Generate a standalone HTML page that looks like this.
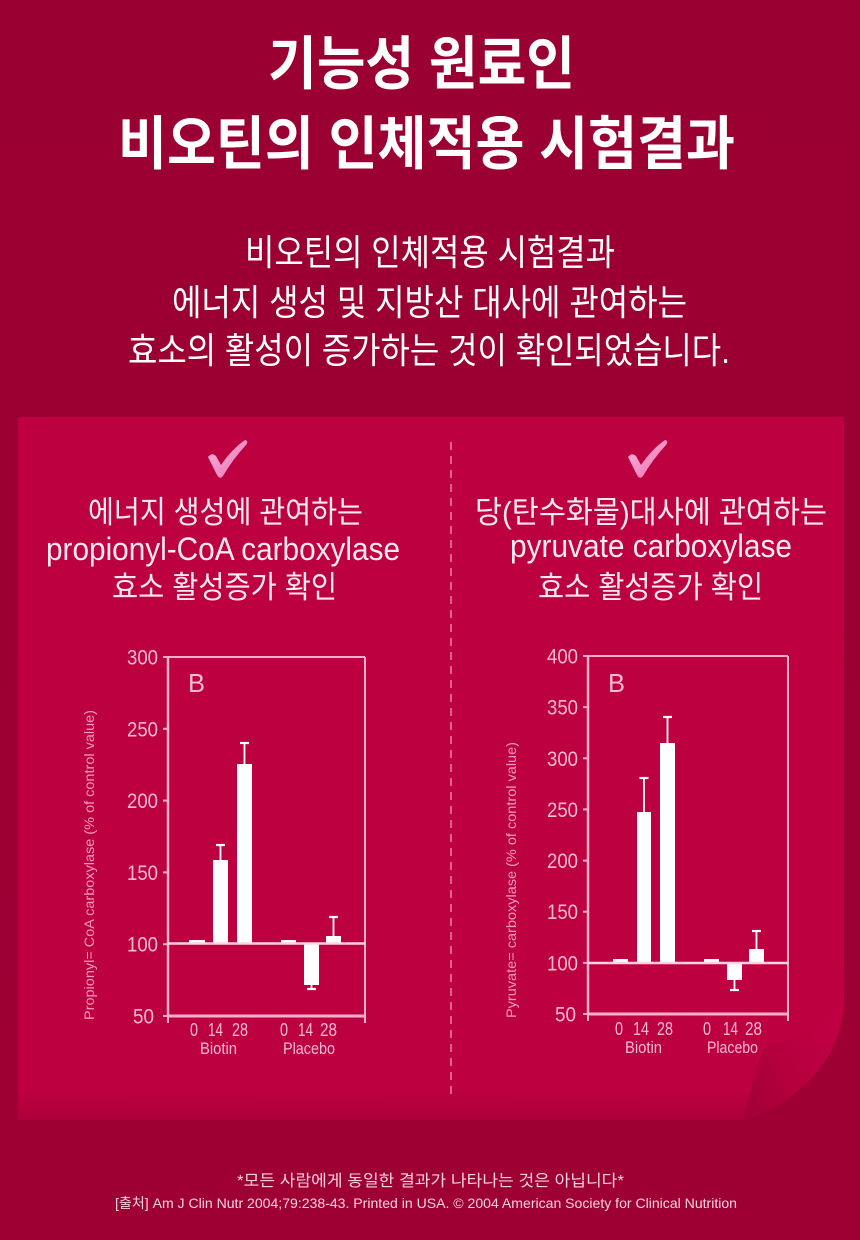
<!DOCTYPE html>
<html>
<head>
<meta charset="utf-8">
<style>
html,body{margin:0;padding:0;background:#9d0033;}
svg{display:block;}
.k{font-family:"Liberation Sans","Noto Sans CJK KR",sans-serif;}
</style>
</head>
<body>
<svg width="860" height="1240" viewBox="0 0 860 1240" xmlns="http://www.w3.org/2000/svg">
<defs>
  <linearGradient id="bg" x1="0" y1="0" x2="0" y2="1">
    <stop offset="0" stop-color="#9b0032"/>
    <stop offset="1" stop-color="#9e0034"/>
  </linearGradient>
  <linearGradient id="btm" x1="0" y1="0" x2="0" y2="1">
    <stop offset="0" stop-color="#8a002c" stop-opacity="0"/>
    <stop offset="1" stop-color="#8a002c" stop-opacity="0.3"/>
  </linearGradient>
  <linearGradient id="curl" x1="1" y1="0.2" x2="0" y2="0.9">
    <stop offset="0" stop-color="#c20044"/>
    <stop offset="0.55" stop-color="#b5003e"/>
    <stop offset="1" stop-color="#a30037"/>
  </linearGradient>
  <linearGradient id="chk" x1="0" y1="0" x2="1" y2="1">
    <stop offset="0" stop-color="#fbb6dc"/>
    <stop offset="1" stop-color="#ec6fb2"/>
  </linearGradient>
</defs>

<rect x="0" y="0" width="860" height="1240" fill="url(#bg)"/>

<!-- Titles -->
<g class="k" fill="#ffffff" font-weight="700" font-size="58" text-anchor="start">
  <text x="268" y="84" textLength="307" lengthAdjust="spacingAndGlyphs">기능성 원료인</text>
  <text x="118" y="164" textLength="617" lengthAdjust="spacingAndGlyphs">비오틴의 인체적용 시험결과</text>
</g>
<g class="k" fill="#ffffff" font-weight="400" font-size="36">
  <text x="245" y="265" textLength="370" lengthAdjust="spacingAndGlyphs">비오틴의 인체적용 시험결과</text>
  <text x="172" y="315" textLength="515" lengthAdjust="spacingAndGlyphs">에너지 생성 및 지방산 대사에 관여하는</text>
  <text x="128" y="363" textLength="602" lengthAdjust="spacingAndGlyphs">효소의 활성이 증가하는 것이 확인되었습니다.</text>
</g>

<!-- Panel -->
<path d="M18,417 H844 V995 C844,1055 805,1100 743,1120 H18 Z" fill="#bd0040"/>
<rect x="18" y="1088" width="735" height="32" fill="url(#btm)"/>
<path d="M844,995 C832,1028 792,1038 764,1048 C755,1068 750,1095 743,1120 C805,1100 844,1055 844,995 Z" fill="url(#curl)"/>

<!-- divider -->
<line x1="451" y1="442" x2="451" y2="1095" stroke="#f0a4c4" stroke-width="1.2" stroke-dasharray="8 6"/>

<!-- check marks -->
<path d="M208,457 Q212,452 216,456 L221,465 Q232,449 245,440 Q249,441 246,445 Q233,459 223,476 Q220,480 217,475 Z" fill="url(#chk)"/>
<path d="M628,457 Q632,452 636,456 L641,465 Q652,449 665,440 Q669,441 666,445 Q653,459 643,476 Q640,480 637,475 Z" fill="url(#chk)"/>

<!-- headings -->
<g class="k" fill="#fde9f0" font-size="31">
  <text x="88" y="523" textLength="275" lengthAdjust="spacingAndGlyphs">에너지 생성에 관여하는</text>
  <text x="46" y="560" textLength="354" lengthAdjust="spacingAndGlyphs" font-size="32">propionyl-CoA carboxylase</text>
  <text x="112" y="598" textLength="225" lengthAdjust="spacingAndGlyphs">효소 활성증가 확인</text>
  <text x="475" y="523" textLength="352" lengthAdjust="spacingAndGlyphs">당(탄수화물)대사에 관여하는</text>
  <text x="510" y="557" textLength="282" lengthAdjust="spacingAndGlyphs" font-size="32">pyruvate carboxylase</text>
  <text x="538" y="598" textLength="225" lengthAdjust="spacingAndGlyphs">효소 활성증가 확인</text>
</g>

<!-- LEFT CHART -->
<g stroke="#f5b0cc" fill="none">
  <line x1="168" y1="656" x2="168" y2="1017" stroke-width="2.5"/>
  <line x1="167" y1="657" x2="365" y2="657" stroke-width="2"/>
  <line x1="365" y1="657" x2="365" y2="1017" stroke-width="2"/>
  <line x1="167" y1="1016" x2="366" y2="1016" stroke-width="3"/>
  <line x1="168" y1="1016" x2="168" y2="1023" stroke-width="2"/>
  <line x1="365" y1="1016" x2="365" y2="1023" stroke-width="2"/>
  <line x1="163" y1="657" x2="168" y2="657" stroke-width="2"/>
  <line x1="163" y1="728.8" x2="168" y2="728.8" stroke-width="2"/>
  <line x1="163" y1="800.6" x2="168" y2="800.6" stroke-width="2"/>
  <line x1="163" y1="872.4" x2="168" y2="872.4" stroke-width="2"/>
  <line x1="163" y1="944.2" x2="168" y2="944.2" stroke-width="2"/>
  <line x1="163" y1="1016" x2="168" y2="1016" stroke-width="2"/>
</g>
<g fill="#ffffff">
  <rect x="189" y="940" width="16" height="4"/>
  <rect x="213" y="860" width="15" height="84"/>
  <rect x="237" y="764" width="15" height="180"/>
  <rect x="281" y="940" width="15" height="4"/>
  <rect x="304" y="944" width="15" height="41"/>
  <rect x="326" y="936" width="15" height="8"/>
</g>
<g stroke="#ffffff" stroke-width="1.8">
  <line x1="220.5" y1="845" x2="220.5" y2="860"/><line x1="216" y1="845" x2="225" y2="845" stroke-width="2.2"/>
  <line x1="244.5" y1="743" x2="244.5" y2="764"/><line x1="240" y1="743" x2="249" y2="743" stroke-width="2.2"/>
  <line x1="311.5" y1="985" x2="311.5" y2="989"/><line x1="307" y1="989" x2="316" y2="989" stroke-width="2.2"/>
  <line x1="333.5" y1="917" x2="333.5" y2="936"/><line x1="329" y1="917" x2="338" y2="917" stroke-width="2.2"/>
</g>
<line x1="168" y1="943.5" x2="365" y2="943.5" stroke="#fbd3e3" stroke-width="2.5"/>
<g class="k" fill="#f6bcd4" font-size="21" text-anchor="end">
  <text x="158" y="664.5" textLength="31" lengthAdjust="spacingAndGlyphs">300</text>
  <text x="158" y="736.3" textLength="31" lengthAdjust="spacingAndGlyphs">250</text>
  <text x="158" y="808.1" textLength="31" lengthAdjust="spacingAndGlyphs">200</text>
  <text x="158" y="879.9" textLength="31" lengthAdjust="spacingAndGlyphs">150</text>
  <text x="158" y="951.7" textLength="31" lengthAdjust="spacingAndGlyphs">100</text>
  <text x="154" y="1023.5" textLength="21" lengthAdjust="spacingAndGlyphs">50</text>
</g>
<g class="k" fill="#f6bcd4" font-size="18">
  <text x="190" y="1036" textLength="8" lengthAdjust="spacingAndGlyphs">0</text>
  <text x="208" y="1036" textLength="15" lengthAdjust="spacingAndGlyphs">14</text>
  <text x="232" y="1036" textLength="16" lengthAdjust="spacingAndGlyphs">28</text>
  <text x="280" y="1036" textLength="8" lengthAdjust="spacingAndGlyphs">0</text>
  <text x="298" y="1036" textLength="15" lengthAdjust="spacingAndGlyphs">14</text>
  <text x="320" y="1036" textLength="17" lengthAdjust="spacingAndGlyphs">28</text>
  <text x="200" y="1054" textLength="37" lengthAdjust="spacingAndGlyphs" font-size="17">Biotin</text>
  <text x="283" y="1054" textLength="52" lengthAdjust="spacingAndGlyphs" font-size="17">Placebo</text>
</g>
<text class="k" x="188" y="692" font-size="26" fill="#f6bcd4" textLength="17" lengthAdjust="spacingAndGlyphs">B</text>
<text class="k" transform="translate(94,865) rotate(-90)" text-anchor="middle" font-size="14" fill="#f39cc0" textLength="310" lengthAdjust="spacingAndGlyphs">Propionyl= CoA carboxylase (% of control value)</text>

<!-- RIGHT CHART -->
<g stroke="#f5b0cc" fill="none">
  <line x1="588" y1="655" x2="588" y2="1015" stroke-width="2.5"/>
  <line x1="587" y1="656" x2="788" y2="656" stroke-width="2"/>
  <line x1="788" y1="656" x2="788" y2="1015" stroke-width="2"/>
  <line x1="587" y1="1014" x2="789" y2="1014" stroke-width="3"/>
  <line x1="588" y1="1014" x2="588" y2="1021" stroke-width="2"/>
  <line x1="788" y1="1014" x2="788" y2="1021" stroke-width="2"/>
  <line x1="583" y1="656" x2="588" y2="656" stroke-width="2"/>
  <line x1="583" y1="707.1" x2="588" y2="707.1" stroke-width="2"/>
  <line x1="583" y1="758.3" x2="588" y2="758.3" stroke-width="2"/>
  <line x1="583" y1="809.4" x2="588" y2="809.4" stroke-width="2"/>
  <line x1="583" y1="860.6" x2="588" y2="860.6" stroke-width="2"/>
  <line x1="583" y1="911.7" x2="588" y2="911.7" stroke-width="2"/>
  <line x1="583" y1="962.9" x2="588" y2="962.9" stroke-width="2"/>
  <line x1="583" y1="1014" x2="588" y2="1014" stroke-width="2"/>
</g>
<g fill="#ffffff">
  <rect x="613" y="959" width="15" height="4"/>
  <rect x="637" y="812" width="14" height="151"/>
  <rect x="660" y="743" width="15" height="220"/>
  <rect x="704" y="959" width="15" height="4"/>
  <rect x="727" y="963" width="15" height="17"/>
  <rect x="749" y="949" width="15" height="14"/>
</g>
<g stroke="#ffffff" stroke-width="1.8">
  <line x1="644" y1="778" x2="644" y2="812"/><line x1="639.5" y1="778" x2="648.5" y2="778" stroke-width="2.2"/>
  <line x1="667.5" y1="717" x2="667.5" y2="743"/><line x1="663" y1="717" x2="672" y2="717" stroke-width="2.2"/>
  <line x1="734.5" y1="980" x2="734.5" y2="990"/><line x1="730" y1="990" x2="739" y2="990" stroke-width="2.2"/>
  <line x1="756.5" y1="931" x2="756.5" y2="949"/><line x1="752" y1="931" x2="761" y2="931" stroke-width="2.2"/>
</g>
<line x1="588" y1="963" x2="788" y2="963" stroke="#fbd3e3" stroke-width="2.5"/>
<g class="k" fill="#f6bcd4" font-size="21" text-anchor="end">
  <text x="578" y="663.5" textLength="31" lengthAdjust="spacingAndGlyphs">400</text>
  <text x="578" y="714.6" textLength="31" lengthAdjust="spacingAndGlyphs">350</text>
  <text x="578" y="765.8" textLength="31" lengthAdjust="spacingAndGlyphs">300</text>
  <text x="578" y="816.9" textLength="31" lengthAdjust="spacingAndGlyphs">250</text>
  <text x="578" y="868.1" textLength="31" lengthAdjust="spacingAndGlyphs">200</text>
  <text x="578" y="919.2" textLength="31" lengthAdjust="spacingAndGlyphs">150</text>
  <text x="578" y="970.4" textLength="31" lengthAdjust="spacingAndGlyphs">100</text>
  <text x="576" y="1021.5" textLength="21" lengthAdjust="spacingAndGlyphs">50</text>
</g>
<g class="k" fill="#f6bcd4" font-size="18">
  <text x="615" y="1035" textLength="8" lengthAdjust="spacingAndGlyphs">0</text>
  <text x="633" y="1035" textLength="16" lengthAdjust="spacingAndGlyphs">14</text>
  <text x="657" y="1035" textLength="16" lengthAdjust="spacingAndGlyphs">28</text>
  <text x="703" y="1035" textLength="8" lengthAdjust="spacingAndGlyphs">0</text>
  <text x="723" y="1035" textLength="15" lengthAdjust="spacingAndGlyphs">14</text>
  <text x="745" y="1035" textLength="17" lengthAdjust="spacingAndGlyphs">28</text>
  <text x="625" y="1053" textLength="37" lengthAdjust="spacingAndGlyphs" font-size="17">Biotin</text>
  <text x="707" y="1053" textLength="51" lengthAdjust="spacingAndGlyphs" font-size="17">Placebo</text>
</g>
<text class="k" x="608" y="692" font-size="26" fill="#f6bcd4" textLength="17" lengthAdjust="spacingAndGlyphs">B</text>
<text class="k" transform="translate(516,880) rotate(-90)" text-anchor="middle" font-size="14" fill="#f39cc0" textLength="276" lengthAdjust="spacingAndGlyphs">Pyruvate= carboxylase (% of control value)</text>

<!-- Footer -->
<g class="k" fill="#f4d3df">
  <text x="237" y="1186" font-size="16" textLength="387" lengthAdjust="spacingAndGlyphs">*모든 사람에게 동일한 결과가 나타나는 것은 아닙니다*</text>
  <text x="115" y="1208" font-size="14" textLength="622" lengthAdjust="spacingAndGlyphs">[출처] Am J Clin Nutr 2004;79:238-43. Printed in USA. © 2004 American Society for Clinical Nutrition</text>
</g>
</svg>
</body>
</html>
